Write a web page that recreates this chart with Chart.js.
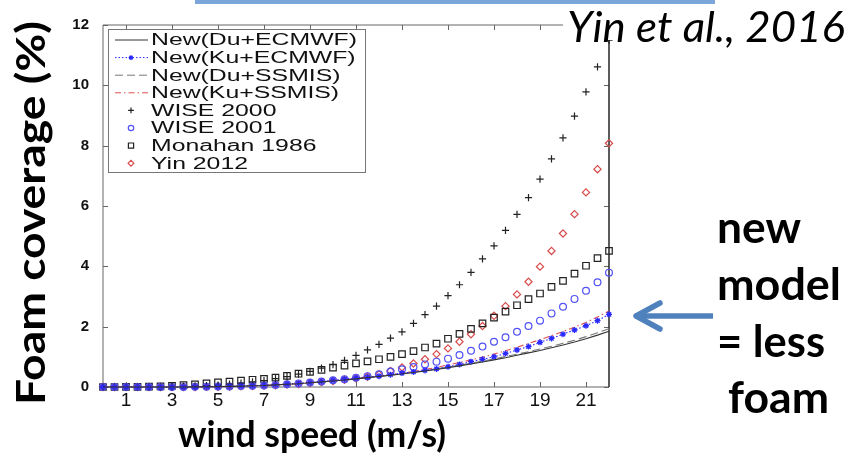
<!DOCTYPE html>
<html>
<head>
<meta charset="utf-8">
<title>Foam coverage vs wind speed</title>
<script src="https://cdn.jsdelivr.net/npm/chart.js"></script>
<style>
    body { margin: 0; background: #fff; }
    canvas { display: block; }
</style>
</head>
<body>
<canvas id="foam-chart" width="861" height="457"></canvas>
<script>
// Wind speed (m/s), every 0.5 m/s
const windSpeed = [0, 0.5, 1, 1.5, 2, 2.5, 3, 3.5, 4, 4.5, 5, 5.5, 6, 6.5, 7, 7.5, 8, 8.5, 9, 9.5,
    10, 10.5, 11, 11.5, 12, 12.5, 13, 13.5, 14, 14.5, 15, 15.5, 16, 16.5, 17, 17.5, 18, 18.5, 19, 19.5,
    20, 20.5, 21, 21.5, 22];

// Foam coverage (%)
const newDuEcmwf = [0, 0, 0, 0, 0, 0, 0, 0, 0.003, 0.007, 0.012, 0.02, 0.03, 0.04, 0.05, 0.07, 0.09, 0.11, 0.14, 0.17,
    0.2, 0.23, 0.27, 0.31, 0.35, 0.39, 0.43, 0.48, 0.53, 0.58, 0.64, 0.7, 0.76, 0.83, 0.9, 0.97, 1.05, 1.13, 1.21, 1.3,
    1.39, 1.49, 1.6, 1.72, 1.85];
const newKuEcmwf = [0, 0, 0, 0, 0, 0, 0, 0, 0.003, 0.007, 0.012, 0.02, 0.03, 0.04, 0.055, 0.075, 0.095, 0.12, 0.15, 0.18,
    0.22, 0.26, 0.3, 0.33, 0.36, 0.41, 0.46, 0.5, 0.55, 0.6, 0.67, 0.75, 0.84, 0.92, 1.0, 1.11, 1.23, 1.34, 1.48, 1.61,
    1.75, 1.89, 2.03, 2.2, 2.41];
const newDuSsmis = [0, 0, 0, 0, 0, 0, 0, 0, 0.003, 0.007, 0.012, 0.02, 0.03, 0.04, 0.05, 0.07, 0.09, 0.11, 0.14, 0.17,
    0.2, 0.23, 0.27, 0.31, 0.35, 0.39, 0.44, 0.49, 0.54, 0.6, 0.66, 0.72, 0.79, 0.86, 0.93, 1.01, 1.09, 1.17, 1.26, 1.35,
    1.45, 1.55, 1.67, 1.8, 1.93];
const newKuSsmis = [0, 0, 0, 0, 0, 0, 0, 0, 0.003, 0.007, 0.012, 0.02, 0.03, 0.04, 0.05, 0.07, 0.09, 0.11, 0.14, 0.17,
    0.21, 0.24, 0.28, 0.32, 0.36, 0.41, 0.46, 0.52, 0.58, 0.65, 0.73, 0.81, 0.9, 0.99, 1.09, 1.2, 1.32, 1.44, 1.57, 1.7,
    1.84, 1.98, 2.14, 2.32, 2.52];
const wise2000 = [0, 0, 0, 0, 0.003, 0.006, 0.011, 0.019, 0.031, 0.046, 0.067, 0.093, 0.126, 0.167, 0.216, 0.275, 0.344, 0.424, 0.517, 0.624,
    0.745, 0.88, 1.05, 1.23, 1.41, 1.62, 1.83, 2.11, 2.4, 2.68, 3.03, 3.39, 3.8, 4.25, 4.68, 5.19, 5.72, 6.28, 6.89, 7.56,
    8.26, 8.98, 9.78, 10.61, 11.5];
const wise2001 = [0, 0, 0, 0, 0, 0, 0, 0, 0.005, 0.01, 0.015, 0.02, 0.03, 0.04, 0.05, 0.07, 0.09, 0.12, 0.15, 0.18,
    0.22, 0.26, 0.31, 0.36, 0.42, 0.51, 0.59, 0.66, 0.75, 0.84, 0.94, 1.06, 1.2, 1.34, 1.5, 1.65, 1.83, 2.02, 2.2, 2.44,
    2.66, 2.92, 3.19, 3.47, 3.79];
const monahan1986 = [0, 0, 0.003, 0.006, 0.01, 0.02, 0.04, 0.06, 0.09, 0.12, 0.15, 0.18, 0.21, 0.24, 0.27, 0.31, 0.37, 0.44, 0.5, 0.57,
    0.64, 0.71, 0.78, 0.85, 0.92, 1.0, 1.09, 1.19, 1.31, 1.44, 1.6, 1.76, 1.93, 2.11, 2.3, 2.5, 2.71, 2.91, 3.1, 3.32,
    3.52, 3.76, 4.02, 4.27, 4.51];
const yin2012 = [0, 0, 0, 0, 0, 0, 0, 0, 0, 0.005, 0.01, 0.015, 0.02, 0.03, 0.045, 0.06, 0.08, 0.1, 0.13, 0.16,
    0.2, 0.24, 0.29, 0.34, 0.42, 0.53, 0.65, 0.78, 0.92, 1.09, 1.28, 1.5, 1.75, 2.02, 2.36, 2.68, 3.07, 3.49, 3.99, 4.51,
    5.09, 5.73, 6.45, 7.22, 8.08];

// Tick labels
const xTicks = [1, 3, 5, 7, 9, 11, 13, 15, 17, 19, 21];
const yTicks = [0, 2, 4, 6, 8, 10, 12];

const toPoints = (series) => windSpeed.map((x, i) => ({ x: x, y: series[i] }));

const lineSet = (label, series, color, dash) => ({
    label: label,
    data: toPoints(series),
    showLine: true,
    borderColor: color,
    borderWidth: 1.1,
    borderDash: dash,
    pointRadius: 0,
    clip: false
});

const markerSet = (label, series, color, style, radius) => ({
    label: label,
    data: toPoints(series),
    showLine: false,
    pointStyle: style,
    pointRadius: radius,
    pointBorderColor: color,
    pointBackgroundColor: 'rgba(0,0,0,0)',
    pointBorderWidth: 1.2,
    clip: false
});

const blueLine = lineSet('New(Ku+ECMWF)', newKuEcmwf, 'rgb(40,40,255)', [1.5, 2]);
blueLine.pointRadius = 3;
blueLine.pointStyle = 'star';
blueLine.pointBorderColor = 'rgb(40,40,255)';
blueLine.pointBorderWidth = 1.3;

const datasets = [
    lineSet('New(Du+ECMWF)', newDuEcmwf, '#333', []),
    blueLine,
    lineSet('New(Du+SSMIS)', newDuSsmis, '#777', [8, 4]),
    lineSet('New(Ku+SSMIS)', newKuSsmis, 'rgb(225,80,80)', [6, 3, 1.5, 3]),
    markerSet('WISE 2000', wise2000, '#222', 'cross', 3.6),
    markerSet('WISE 2001', wise2001, 'rgb(80,80,245)', 'circle', 3.4),
    markerSet('Monahan 1986', monahan1986, '#222', 'rect', 4.6),
    markerSet('Yin 2012', yin2012, 'rgb(215,75,75)', 'rectRot', 3.6)
];

// Draw text stretched to a given width
function fitText(ctx, text, x, y, width, font) {
    ctx.font = font;
    const w = ctx.measureText(text).width;
    ctx.save();
    ctx.translate(x, y);
    ctx.scale(width / w, 1);
    ctx.fillText(text, 0, 0);
    ctx.restore();
}

// Boxed frame with inward ticks on all four sides
const framePlugin = {
    id: 'frame',
    beforeDatasetsDraw(chart) {
        const ctx = chart.ctx;
        const a = chart.chartArea;
        const xs = chart.scales.x;
        const ys = chart.scales.y;
        ctx.save();
        ctx.strokeStyle = '#666';
        ctx.lineWidth = 1;
        ctx.beginPath();
        ctx.moveTo(a.left, a.top);
        ctx.lineTo(a.right, a.top);
        ctx.moveTo(a.left, a.top);
        ctx.lineTo(a.left, a.bottom);
        ctx.lineTo(a.right, a.bottom);
        xTicks.forEach(v => {
            const px = Math.round(xs.getPixelForValue(v)) + 0.5;
            ctx.moveTo(px, a.bottom);
            ctx.lineTo(px, a.bottom - 5);
            ctx.moveTo(px, a.top);
            ctx.lineTo(px, a.top + 5);
        });
        yTicks.forEach(v => {
            const py = Math.round(ys.getPixelForValue(v)) + 0.5;
            ctx.moveTo(a.left, py);
            ctx.lineTo(a.left + 5, py);
            ctx.moveTo(a.right, py);
            ctx.lineTo(a.right - 5, py);
        });
        ctx.stroke();
        ctx.strokeStyle = '#333';
        ctx.lineWidth = 1.6;
        ctx.beginPath();
        ctx.moveTo(a.right, a.top);
        ctx.lineTo(a.right, a.bottom);
        ctx.stroke();
        ctx.restore();
    },
    afterDraw(chart) {
        const ctx = chart.ctx;
        ctx.save();

        // Legend box in the upper left of the plot
        ctx.fillStyle = '#fff';
        ctx.fillRect(108, 29, 258, 144);
        ctx.strokeStyle = '#777';
        ctx.lineWidth = 1;
        ctx.strokeRect(108.5, 29.5, 257, 143);
        chart.data.datasets.forEach((ds, i) => {
            const y = 40 + i * 17.6;
            if (ds.showLine) {
                ctx.strokeStyle = ds.borderColor;
                ctx.lineWidth = 1;
                ctx.setLineDash(ds.borderDash);
                ctx.beginPath();
                ctx.moveTo(115, y);
                ctx.lineTo(148, y);
                ctx.stroke();
                ctx.setLineDash([]);
            }
            if (ds.pointRadius > 0) {
                ctx.strokeStyle = ds.pointBorderColor;
                ctx.fillStyle = 'rgba(0,0,0,0)';
                ctx.lineWidth = ds.pointBorderWidth;
                Chart.helpers.drawPoint(ctx, {
                    pointStyle: ds.pointStyle,
                    radius: ds.pointRadius * 0.8,
                    rotation: 0,
                    borderWidth: ds.pointBorderWidth
                }, 131, y);
            }
            ctx.fillStyle = '#111';
            ctx.font = '16px "Liberation Sans"';
            ctx.textBaseline = 'middle';
            ctx.save();
            ctx.translate(151, y + 1);
            ctx.scale(1.55, 1);
            ctx.fillText(ds.label, 0, 0);
            ctx.restore();
        });

        // Citation in the upper right, over the frame
        ctx.textBaseline = 'alphabetic';
        ctx.fillStyle = '#fff';
        ctx.fillRect(563, 0, 298, 40);
        ctx.fillStyle = '#7aa6dc';
        ctx.fillRect(195, 0, 520, 4);
        ctx.fillStyle = '#000';
        fitText(ctx, 'Yin et al., 2016', 567, 42, 278, 'italic 42px Lato');

        // Axis titles
        fitText(ctx, 'wind speed (m/s)', 178, 447, 268, 'bold 37px Lato');
        ctx.save();
        ctx.translate(45, 213);
        ctx.rotate(-Math.PI / 2);
        fitText(ctx, 'Foam coverage (%)', -192, 0, 384, 'bold 40px Lato');
        ctx.restore();

        // Annotation on the right
        fitText(ctx, 'new', 717, 243, 84, 'bold 44px Lato');
        fitText(ctx, 'model', 717, 300, 124, 'bold 44px Lato');
        fitText(ctx, '= less', 717, 357, 108, 'bold 44px Lato');
        fitText(ctx, 'foam', 728, 413, 101, 'bold 44px Lato');

        // Arrow pointing at the new model curves
        ctx.strokeStyle = '#4f81bd';
        ctx.lineWidth = 5.5;
        ctx.lineCap = 'butt';
        ctx.beginPath();
        ctx.moveTo(713, 316);
        ctx.lineTo(638, 316);
        ctx.stroke();
        ctx.lineCap = 'round';
        ctx.lineJoin = 'round';
        ctx.beginPath();
        ctx.moveTo(660, 303);
        ctx.lineTo(636, 316);
        ctx.lineTo(660, 329);
        ctx.stroke();
        ctx.restore();
    }
};

const ctx = document.getElementById('foam-chart').getContext('2d');
const foamChart = new Chart(ctx, {
    type: 'scatter',
    data: { datasets: datasets },
    options: {
        responsive: false,
        animation: false,
        devicePixelRatio: 1,
        layout: {
            padding: { left: 0, right: 252, top: 25, bottom: 0 }
        },
        plugins: {
            legend: { display: false },
            tooltip: { enabled: false }
        },
        scales: {
            x: {
                type: 'linear',
                min: 0,
                max: 22,
                grid: { display: false, drawTicks: false },
                border: { display: false },
                afterBuildTicks: (scale) => { scale.ticks = xTicks.map(v => ({ value: v })); },
                afterFit: (scale) => { scale.height = 70; },
                ticks: {
                    color: '#111',
                    padding: 2,
                    maxRotation: 0,
                    autoSkip: false,
                    font: { family: '"Liberation Sans"', size: 19 }
                }
            },
            y: {
                type: 'linear',
                min: 0,
                max: 12,
                grid: { display: false, drawTicks: false },
                border: { display: false },
                afterBuildTicks: (scale) => { scale.ticks = yTicks.map(v => ({ value: v })); },
                afterFit: (scale) => { scale.width = 103; },
                ticks: {
                    color: '#111',
                    padding: 14,
                    font: { family: '"Liberation Sans"', size: 15, weight: 'bold' }
                }
            }
        }
    },
    plugins: [framePlugin]
});
</script>
</body>
</html>
